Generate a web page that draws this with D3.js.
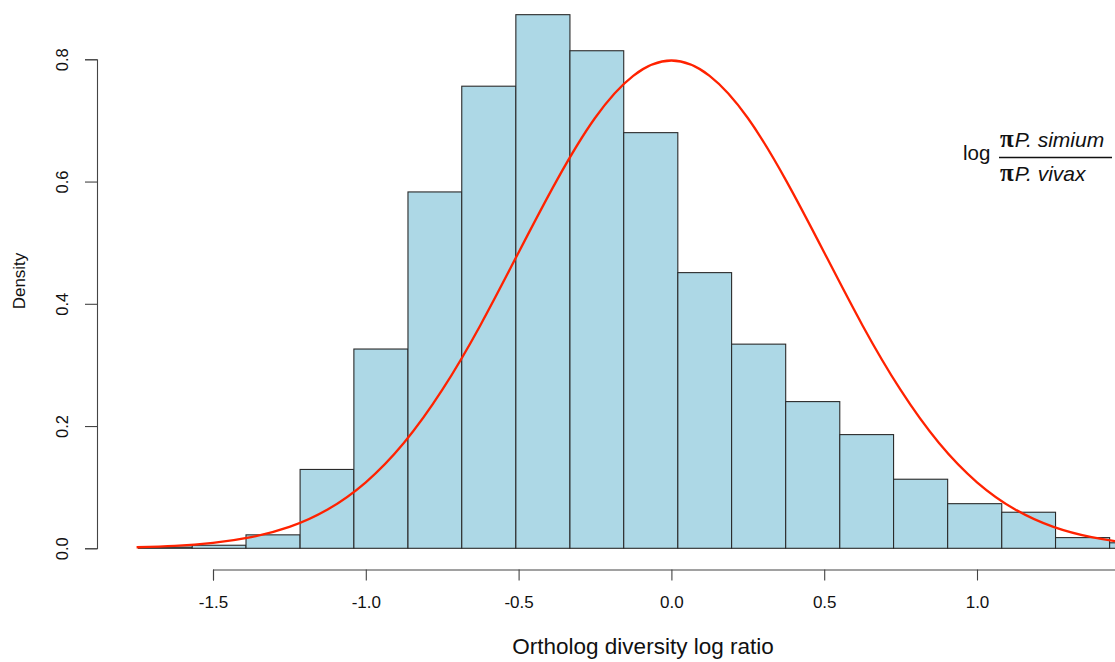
<!DOCTYPE html>
<html>
<head>
<meta charset="utf-8">
<script src="https://cdn.jsdelivr.net/npm/d3@7"></script>
<style>
  html, body { margin: 0; padding: 0; background: #fff; }
  svg { display: block; font-family: "Liberation Sans", Arial, sans-serif; }
</style>
</head>
<body>
<svg id="chart" width="1115" height="662"></svg>
<script>
// ---- data ----
const binEdges = [-1.744, -1.568, -1.392, -1.215, -1.039, -0.862, -0.686, -0.509, -0.332, -0.156,
                  0.021, 0.197, 0.374, 0.551, 0.727, 0.904, 1.081, 1.257, 1.434, 1.611];
const binDensity = [0.002, 0.005, 0.022, 0.129, 0.326, 0.583, 0.756, 0.873, 0.814, 0.680,
                    0.451, 0.334, 0.240, 0.186, 0.113, 0.073, 0.059, 0.0175, 0.009];
const curveX = [-1.75, -1.625, -1.5, -1.375, -1.25, -1.125, -1.0, -0.875, -0.75, -0.625, -0.5, -0.375, -0.25, -0.125,
                0, 0.125, 0.25, 0.375, 0.5, 0.625, 0.75, 0.875, 1.0, 1.125, 1.25, 1.375, 1.5, 1.625, 1.75];
const curveY = [0.00175, 0.00406, 0.00886, 0.0182, 0.0350, 0.0635, 0.108, 0.1726, 0.259, 0.365, 0.484, 0.602, 0.704, 0.773,
                0.798, 0.773, 0.704, 0.602, 0.484, 0.365, 0.259, 0.1726, 0.108, 0.0635, 0.0350, 0.0182, 0.00886, 0.00406, 0.00175];
const xTicks = [-1.5, -1.0, -0.5, 0.0, 0.5, 1.0];
const yTicks = [0.0, 0.2, 0.4, 0.6, 0.8];
const xTitle = "Ortholog diversity log ratio";
const yTitle = "Density";

const svg = d3.select("#chart");

// axis line runs from -1.5 to 1.5 (right end falls outside the window, as in the reference)
const x = d3.scaleLinear().domain([-1.5, 1.5]).range([213, 1129.8]);
const y = d3.scaleLinear().domain([0, 0.8]).range([548.3, 59.3]);

const bins = binDensity.map((d, i) => ({x0: binEdges[i], x1: binEdges[i + 1], d}));

// bars
svg.append("g").selectAll("rect").data(bins).join("rect")
  .attr("x", b => x(b.x0))
  .attr("y", b => y(b.d))
  .attr("width", b => x(b.x1) - x(b.x0))
  .attr("height", b => y(0) - y(b.d))
  .attr("fill", "#ADD8E6")
  .attr("stroke", "#2a2a2a")
  .attr("stroke-width", 1.1);

// normal curve
const line = d3.line().x((d, i) => x(curveX[i])).y(d => y(d)).curve(d3.curveNatural);
svg.append("path")
  .attr("d", line(curveY))
  .attr("fill", "none")
  .attr("stroke", "#ff2200")
  .attr("stroke-width", 2.3);

// x axis
const xAxis = d3.axisBottom(x).tickValues(xTicks).tickFormat(d => d.toFixed(1))
  .tickSize(11).tickSizeOuter(11).tickPadding(15);
const gx = svg.append("g").attr("transform", "translate(0,569.5)").call(xAxis);
gx.selectAll("path, line").attr("stroke", "#444").attr("stroke-width", 1.1);
gx.selectAll("text").attr("font-size", "17px").attr("fill", "#111")
  .attr("font-family", "'Liberation Sans', Arial, sans-serif");

// y axis
const yAxis = d3.axisLeft(y).tickValues(yTicks).tickFormat(d => d.toFixed(1))
  .tickSize(12).tickSizeOuter(12);
const gy = svg.append("g").attr("transform", "translate(97,0)").call(yAxis);
gy.selectAll("path, line").attr("stroke", "#444").attr("stroke-width", 1.1);
gy.selectAll("text")
  .attr("font-size", "16.5px").attr("fill", "#111")
  .attr("font-family", "'Liberation Sans', Arial, sans-serif")
  .attr("x", null)
  .attr("y", 0)
  .attr("dy", "-0.05em")
  .attr("text-anchor", "middle")
  .attr("transform", "translate(-28,0) rotate(-90)");

// axis titles
svg.append("text")
  .attr("x", 643).attr("y", 654)
  .attr("text-anchor", "middle")
  .attr("font-size", "22.5px").attr("fill", "#111")
  .text(xTitle);

svg.append("text")
  .attr("transform", "translate(25,281) rotate(-90)")
  .attr("text-anchor", "middle")
  .attr("font-size", "17px").attr("fill", "#111")
  .text(yTitle);

// legend-like math label
const lg = svg.append("g").attr("fill", "#111");
lg.append("text").attr("x", 963).attr("y", 160).attr("font-size", "20.5px").text("log");
const num = lg.append("text").attr("x", 1000).attr("y", 147).attr("font-size", "21px");
num.append("tspan").attr("font-family", "'Liberation Serif', 'DejaVu Serif', serif").attr("font-size", "25px").attr("font-weight", "bold").text("π");
num.append("tspan").attr("dx", 1).attr("font-style", "italic").text("P. simium");
lg.append("line").attr("x1", 999).attr("x2", 1112).attr("y1", 157.5).attr("y2", 157.5)
  .attr("stroke", "#111").attr("stroke-width", 1.6);
const den = lg.append("text").attr("x", 1000).attr("y", 181).attr("font-size", "21px");
den.append("tspan").attr("font-family", "'Liberation Serif', 'DejaVu Serif', serif").attr("font-size", "25px").attr("font-weight", "bold").text("π");
den.append("tspan").attr("dx", 1).attr("font-style", "italic").text("P. vivax");
</script>
</body>
</html>
